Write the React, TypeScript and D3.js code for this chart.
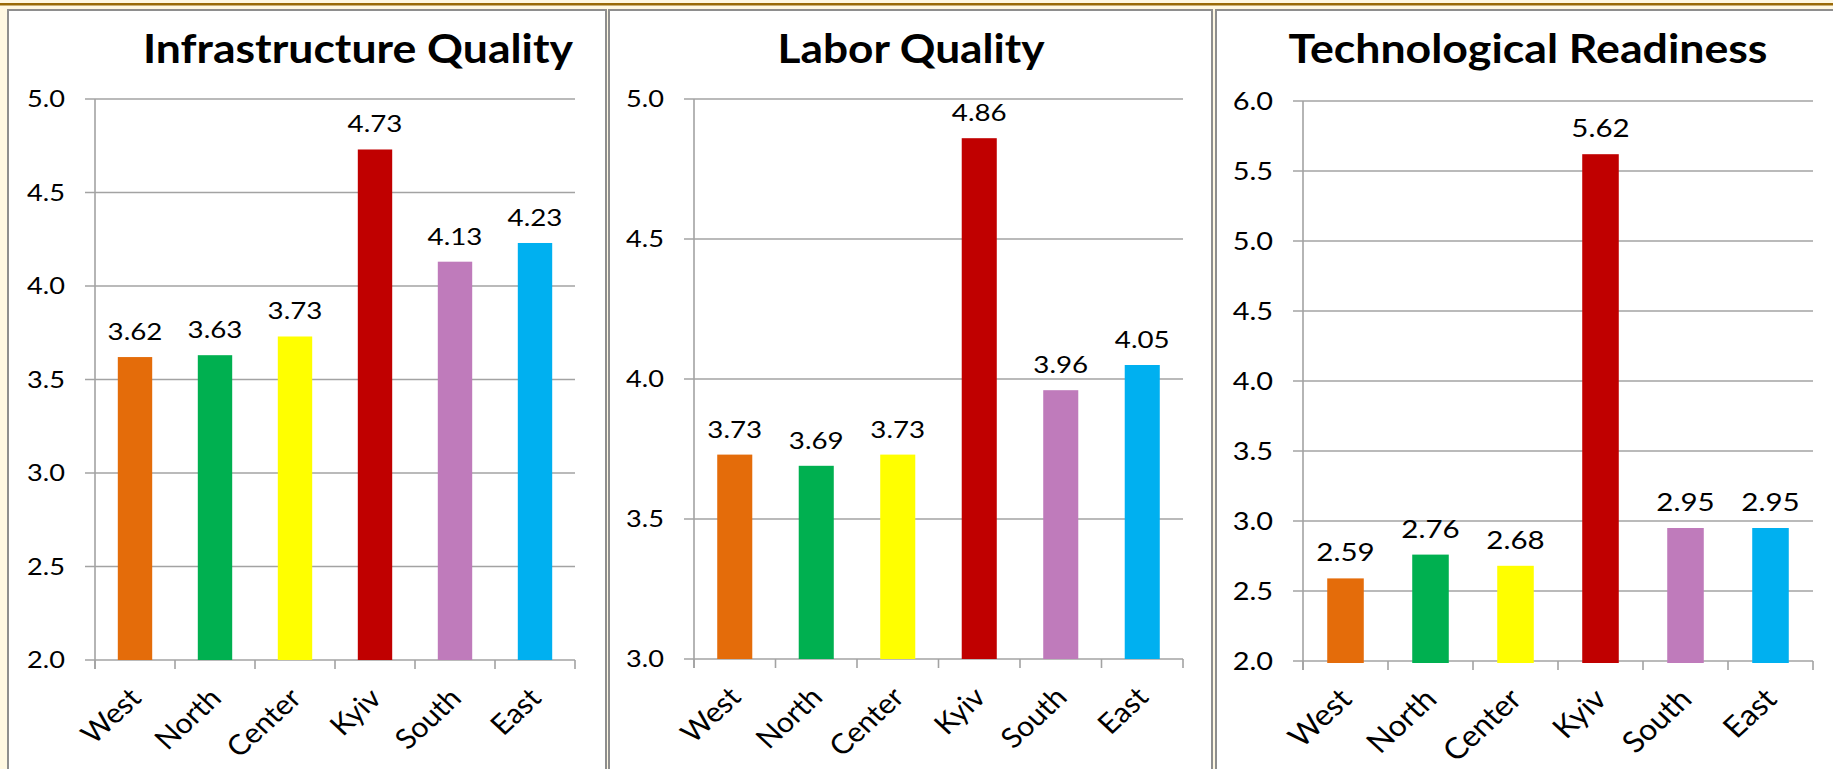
import React from "react";
import { scaleBand, scaleLinear } from "d3";

const categories = ["West", "North", "Center", "Kyiv", "South", "East"];
const barColors = ["#E46C0A", "#00B050", "#FFFF00", "#C00000", "#BF7BBB", "#00B0F0"];

const titles = ["Infrastructure Quality", "Labor Quality", "Technological Readiness"];
const infraValues = [3.62, 3.63, 3.73, 4.73, 4.13, 4.23];
const laborValues = [3.73, 3.69, 3.73, 4.86, 3.96, 4.05];
const techValues = [2.59, 2.76, 2.68, 5.62, 2.95, 2.95];

const infraTicks = [2.0, 2.5, 3.0, 3.5, 4.0, 4.5, 5.0];
const laborTicks = [3.0, 3.5, 4.0, 4.5, 5.0];
const techTicks = [2.0, 2.5, 3.0, 3.5, 4.0, 4.5, 5.0, 5.5, 6.0];

// where each panel sits on the slide
const layout = [
  { box: [8, 606], plot: [95, 575], top: 99, bottom: 660, titleX: 358, titleW: 430, fs: 23, overhang: 0 },
  { box: [609, 1212], plot: [694, 1183], top: 99, bottom: 659, titleX: 911, titleW: 267, fs: 23, overhang: 0 },
  { box: [1216, 1850], plot: [1303, 1813], top: 101, bottom: 661, titleX: 1528, titleW: 479, fs: 24.5, overhang: 2 },
];

const panelData = [
  { values: infraValues, ticks: infraTicks },
  { values: laborValues, ticks: laborTicks },
  { values: techValues, ticks: techTicks },
];

const W = 1833;
const H = 769;
const STRETCH = 1.18;
const GRID = "#A3A3A3";
const FONT = "Lato, 'Open Sans', sans-serif";

const Panel = ({ i }: { i: number }) => {
  const L = layout[i];
  const { values, ticks } = panelData[i];
  const y = scaleLinear().domain([ticks[0], ticks[ticks.length - 1]]).range([L.bottom, L.top]);
  const x = scaleBand().domain(categories).range(L.plot as [number, number]);
  const bw = x.bandwidth();
  const barW = bw * 0.43;
  const bounds = categories.map((c) => x(c) as number).concat([L.plot[1]]);

  return (
    <g>
      <rect x={L.box[0]} y={10} width={L.box[1] - L.box[0]} height={H + 20} fill="#fff" stroke="#8E8E8E" strokeWidth={2} />
      <text
        x={L.titleX - L.titleW / 2}
        y={63}
        fontFamily={FONT}
        fontWeight={700}
        fontSize={41}
        textLength={L.titleW}
        lengthAdjust="spacingAndGlyphs"
      >
        {titles[i]}
      </text>

      {ticks.map((t) => (
        <g key={t}>
          <line x1={L.plot[0] - 10} x2={L.plot[1]} y1={y(t)} y2={y(t)} stroke={GRID} strokeWidth={1.6} />
          <text
            transform={`translate(${L.plot[0] - 30},${y(t)}) scale(${STRETCH},1)`}
            textAnchor="end"
            dy="0.36em"
            fontFamily={FONT}
            fontSize={L.fs}
            fill="#000"
          >
            {t.toFixed(1)}
          </text>
        </g>
      ))}
      <line x1={L.plot[0]} x2={L.plot[0]} y1={L.top} y2={L.bottom + 9} stroke={GRID} strokeWidth={1.6} />
      {bounds.map((b, k) => (
        <line key={k} x1={b} x2={b} y1={L.bottom} y2={L.bottom + 9} stroke={GRID} strokeWidth={1.6} />
      ))}

      {categories.map((c, k) => {
        const cx = (x(c) as number) + bw / 2;
        const v = values[k];
        return (
          <g key={c}>
            <rect
              x={cx - barW / 2}
              y={y(v)}
              width={barW}
              height={y(ticks[0]) - y(v) + L.overhang}
              fill={barColors[k]}
            />
            <text
              transform={`translate(${cx},${y(v) - 17}) scale(${STRETCH},1)`}
              textAnchor="middle"
              fontFamily={FONT}
              fontSize={L.fs + 0.5}
              fill="#000"
            >
              {v.toFixed(2)}
            </text>
            <text
              transform={`translate(${cx + 8},${L.bottom + 40}) scale(1.08,1) rotate(-45)`}
              textAnchor="end"
              fontFamily={FONT}
              fontSize={L.fs + 5}
              fill="#000"
            >
              {c}
            </text>
          </g>
        );
      })}
    </g>
  );
};

export default function App() {
  return (
    <svg
      width={W}
      height={H}
      style={{ position: "absolute", left: 0, top: 0, display: "block" }}
    >
      <rect x={0} y={0} width={W} height={H} fill="#FFF8E2" />
      <rect x={0} y={3} width={W} height={2.5} fill="#9A6A08" />
      {layout.map((_, i) => (
        <Panel key={i} i={i} />
      ))}
    </svg>
  );
}
